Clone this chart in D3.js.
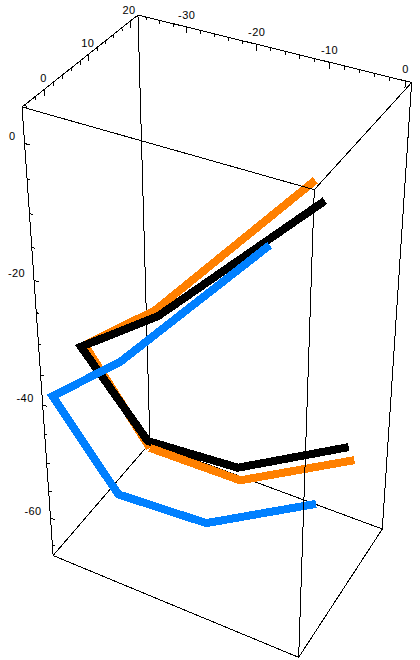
<!DOCTYPE html>
<html>
<head>
<meta charset="utf-8">
<style>
  body { margin: 0; background: #fff; }
  text { font-family: "Liberation Sans", sans-serif; font-size: 11px; letter-spacing: 0.4px; fill: #000; }
</style>
</head>
<body>
<div id="chart"></div>
<script src="https://cdn.jsdelivr.net/npm/d3@7"></script>
<script>
// series values, x / y / z per point (y is the depth, estimated)
const orangeX = [-3.6, -25.5, -33.3, -26.9, -15.6, -1.1]
const orangeY = [5, 5, 0, 5, 10, 15]
const orangeZ = [-0.6, -26.9, -32.0, -50.6, -55.5, -49.6]

const blackX = [-2.3, -25.1, -33.9, -27.2, -16.0, -2.0]
const blackY = [5, 5, 0, 5, 10, 15]
const blackZ = [-3.0, -27.7, -32.5, -49.5, -53.4, -47.7]

const blueX = [-9.3, -31.2, -36.1, -32.3, -18.2, -4.2]
const blueY = [5, 5, -4, 5, 5, 10]
const blueZ = [-11.5, -37.5, -38.7, -61.4, -60.4, -54.7]

// tick labels
const xMajor = [-30, -20, -10, 0]
const yMajor = [0, 10, 20]
const zMajor = [0, -20, -40, -60]

const width = 420, height = 660

const xScale = d3.scaleLinear().domain([-37.2, 0.8]).range([0, 1])
const yScale = d3.scaleLinear().domain([22, -4.8]).range([0, 1])
const zScale = d3.scaleLinear().domain([5, -67]).range([0, 1])

// camera: fitted on where the corners of the box land on the page
const camera = [
  [0, 0, 0, 137, 16], [1, 0, 0, 413, 83], [0, 1, 0, 22, 107], [1, 1, 0, 314, 188],
  [0, 0, 1, 150, 438], [1, 0, 1, 382, 533], [0, 1, 1, 54, 560], [1, 1, 1, 298, 654]
]

function solve(A, b) {
  const n = b.length
  const M = A.map((r, i) => [...r, b[i]])
  for (let i = 0; i < n; i++) {
    let p = i
    for (let k = i; k < n; k++) if (Math.abs(M[k][i]) > Math.abs(M[p][i])) p = k;
    [M[i], M[p]] = [M[p], M[i]]
    for (let k = 0; k < n; k++) {
      if (k == i) continue
      const f = M[k][i] / M[i][i]
      for (let j = i; j <= n; j++) M[k][j] -= f * M[i][j]
    }
  }
  return M.map((r, i) => r[n] / r[i])
}

const rows = [], rhs = []
camera.forEach(([u, v, w, sx, sy]) => {
  rows.push([u, v, w, 1, 0, 0, 0, 0, -sx * u, -sx * v, -sx * w]); rhs.push(sx)
  rows.push([0, 0, 0, 0, u, v, w, 1, -sy * u, -sy * v, -sy * w]); rhs.push(sy)
})
const m = solve(
  d3.range(11).map(i => d3.range(11).map(j => d3.sum(rows, r => r[i] * r[j]))),
  d3.range(11).map(i => d3.sum(rows, (r, k) => r[i] * rhs[k]))
)

// data value -> page
function project(x, y, z) {
  const u = xScale(x), v = yScale(y), w = zScale(z)
  const d = m[8] * u + m[9] * v + m[10] * w + 1
  return [
    (m[0] * u + m[1] * v + m[2] * w + m[3]) / d,
    (m[4] * u + m[5] * v + m[6] * w + m[7]) / d
  ]
}

const svg = d3.select("#chart").append("svg")
  .attr("width", width)
  .attr("height", height)
  .style("display", "block")

const line = d3.line()
const [x0, x1] = xScale.domain(), [y0, y1] = yScale.domain(), [z0, z1] = zScale.domain()

function edge(a, b) {
  svg.append("path")
    .attr("d", line([project(...a), project(...b)]))
    .attr("fill", "none")
    .attr("stroke", "#000")
    .attr("stroke-width", 1)
    .attr("shape-rendering", "crispEdges")
}

function series(xs, ys, zs, color) {
  svg.append("path")
    .attr("d", line(xs.map((d, i) => project(d, ys[i], zs[i]))))
    .attr("fill", "none")
    .attr("stroke", color)
    .attr("stroke-width", 8)
    .attr("stroke-linejoin", "miter")
    .attr("shape-rendering", "crispEdges")
}

// back of the box, under the lines
edge([x0, y0, z0], [x0, y1, z0])
edge([x0, y0, z0], [x1, y0, z0])
edge([x1, y0, z0], [x1, y0, z1])
edge([x0, y0, z0], [x0, y0, z1])
edge([x0, y1, z0], [x0, y1, z1])
edge([x0, y0, z1], [x0, y1, z1])
edge([x0, y0, z1], [x1, y0, z1])
edge([x0, y1, z1], [x1, y1, z1])
edge([x1, y0, z1], [x1, y1, z1])

// orange goes under black down to the corner, then over it
series(orangeX.slice(0, 4), orangeY.slice(0, 4), orangeZ.slice(0, 4), "#ff8000")
series(blackX, blackY, blackZ, "#000")
series(orangeX.slice(3), orangeY.slice(3), orangeZ.slice(3), "#ff8000")
series(blueX, blueY, blueZ, "#0080ff")

// front of the box, over the lines
edge([x0, y1, z0], [x1, y1, z0])
edge([x1, y1, z0], [x1, y0, z0])
edge([x1, y1, z0], [x1, y1, z1])

// ticks
d3.range(-36, 1, 2).forEach(t => {
  const len = xMajor.includes(t) ? 0.9 : 0.5
  edge([t, y0, z0], [t, y0, z0 - len])
})
d3.range(-4, 23, 2).forEach(t => {
  const len = yMajor.includes(t) ? 0.9 : 0.5
  edge([x0, t, z0], [x0, t, z0 - len])
})
d3.range(-65, 1, 5).forEach(t => {
  const len = zMajor.includes(t) ? 0.7 : 0.45
  edge([x0, y1, t], [x0 + len, y1, t])
})

// labels
svg.selectAll(".xl").data(xMajor).join("text")
  .attr("x", d => project(d, y0, z0)[0])
  .attr("y", d => project(d, y0, z0)[1] - 8)
  .attr("text-anchor", "middle")
  .text(d => d3.format("")(d).replace("−", "-"))

svg.selectAll(".yl").data(yMajor).join("text")
  .attr("x", d => project(x0, d, z0)[0] - 1)
  .attr("y", d => project(x0, d, z0)[1] - 7)
  .attr("text-anchor", "middle")
  .text(d => d)

svg.selectAll(".zl").data(zMajor).join("text")
  .attr("x", d => project(x0, y1, d)[0] - 9)
  .attr("y", d => project(x0, y1, d)[1] - 3)
  .attr("text-anchor", "end")
  .text(d => d)
</script>
</body>
</html>
